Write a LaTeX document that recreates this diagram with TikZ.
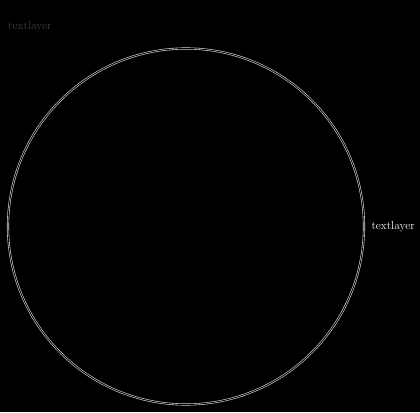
\documentclass[tikz,border=0pt]{standalone}
\usetikzlibrary{positioning}

\begin{document}
\begin{tikzpicture}[x=1pt,y=1pt]
          \fill[black] (0,0) rectangle (420,412);
          \useasboundingbox (0,0) rectangle (420,412);
          \node (ring) [circle, draw=white!85!black, double=black, double distance=0.9pt, line width=0.6pt, minimum size=356pt, inner sep=0pt] at (186,185.5) {};
          \node (label) [right=6pt of ring.east, text=white, font=\fontsize{11.5}{13}\selectfont, inner sep=1pt] {textlayer};
          \node (top) [anchor=west, text=black!75!white, font=\fontsize{11.5}{13}\selectfont, inner sep=0pt] at (8,385) {textlayer};
        \end{tikzpicture}
\end{document}
